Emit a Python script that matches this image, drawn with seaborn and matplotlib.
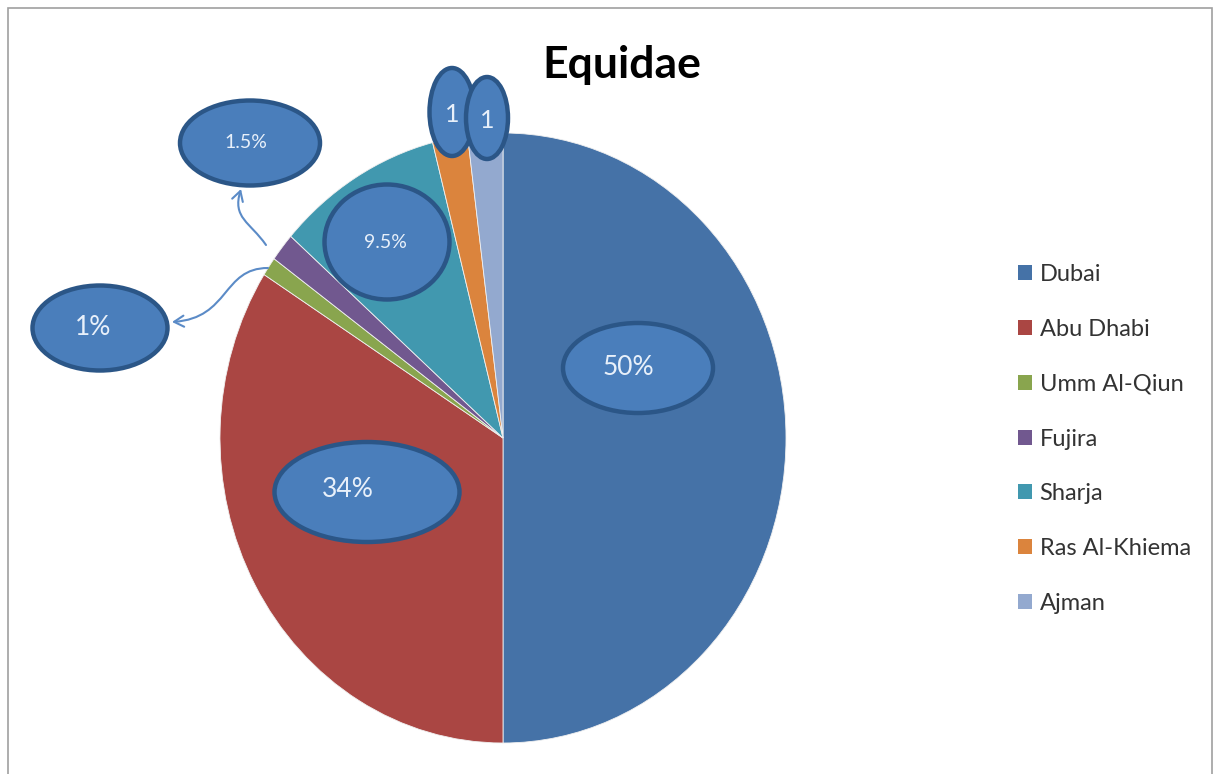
import matplotlib
matplotlib.use("Agg")
import matplotlib.pyplot as plt
import seaborn as sns
from matplotlib.patches import Ellipse, Patch, FancyArrowPatch, Rectangle
from matplotlib.path import Path

# ---- data ----
categories = ["Dubai", "Abu Dhabi", "Umm Al-Qiun", "Fujira", "Sharja", "Ras Al-Khiema", "Ajman"]
values = [50, 34, 1, 1.5, 9.5, 2, 2]
label_texts = ["50%", "34%", "1%", "1.5%", "9.5%", "1", "1"]
colors = ["#4572A7", "#AA4643", "#89A54E", "#71588F", "#4198AF", "#DB843D", "#93A9CF"]
title = "Equidae"

sns.set_theme(style="white")
plt.rcParams["font.family"] = ["Lato", "DejaVu Sans"]

W, H = 1219, 774
fig = plt.figure(figsize=(W / 100, H / 100), dpi=100)
ax = fig.add_axes([0, 0, 1, 1])

# pie geometry in pixels
cx, cy, rx, ry = 503, 438, 283, 305

def P(x, y):
    return ((x - cx) / rx, (cy - y) / ry)

ax.pie(values, colors=colors, startangle=90, counterclock=False,
       wedgeprops=dict(edgecolor="#f0f0f0", linewidth=0.6))
ax.set_aspect("auto")
ax.set_xlim(-cx / rx, (W - cx) / rx)
ax.set_ylim(-(H - cy) / ry, cy / ry)
ax.axis("off")

# border
fig.patches.append(Rectangle((8 / W, -0.05), 1204 / W, 1 - 8 / H + 0.05,
                             transform=fig.transFigure, fill=False,
                             edgecolor="#a0a0a0", linewidth=1.2))

# title
fig.text(622 / W, 1 - 78 / H, title, ha="center", va="baseline",
         fontsize=32, fontweight="bold", color="black")

# label bubbles: (x, y, w, h, text x, text y, fontsize) in pixels
bubbles = [
    (638, 368, 150, 90, 628, 368, 19),
    (367, 492, 185, 100, 348, 490, 19),
    (100, 328, 135, 85, 93, 328, 19),
    (250, 143, 140, 85, 246, 143, 14),
    (387, 242, 125, 115, 385, 242, 14),
    (452, 112, 45, 88, 452, 115, 18),
    (487, 118, 42, 82, 487, 120, 18),
]
for (x, y, w, h, tx, ty, fs), txt in zip(bubbles, label_texts):
    ax.add_patch(Ellipse(P(x, y), w / rx, h / ry, facecolor="#4A7EBB",
                         edgecolor="#2B5687", linewidth=3.2, zorder=5))
    ax.text(*P(tx, ty), txt, ha="center", va="center", fontsize=fs,
            color="#E8F0FA", zorder=6)

# wavy arrows
def wavy(pts):
    verts = [P(*p) for p in pts]
    codes = [Path.MOVETO, Path.CURVE4, Path.CURVE4, Path.CURVE4]
    ar = FancyArrowPatch(path=Path(verts, codes), arrowstyle="->,head_length=7,head_width=4",
                         color="#5B8BC7", linewidth=1.5, zorder=4)
    ax.add_patch(ar)

wavy([(266, 245), (250, 222), (232, 218), (241, 189)])
wavy([(268, 268), (222, 268), (230, 318), (172, 322)])

handles = [Patch(facecolor=c, edgecolor="none") for c in colors]
leg = fig.legend(handles, categories, loc="upper left",
                 bbox_to_anchor=(997 / W, 1 - 243 / H), frameon=False,
                 fontsize=17, handlelength=0.6, handleheight=0.6,
                 handletextpad=0.3, labelspacing=1.43)
for t in leg.get_texts():
    t.set_color("#333333")

fig.savefig("out.png", dpi=100)
